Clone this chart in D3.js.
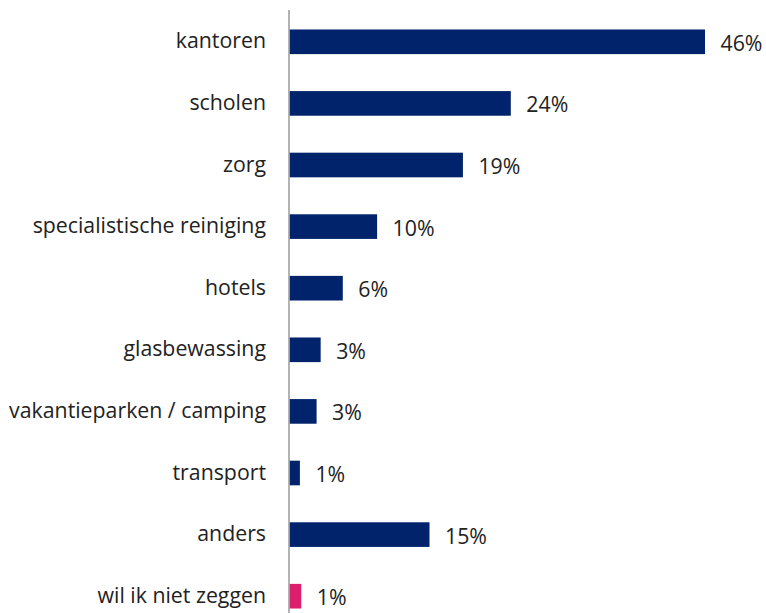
<!DOCTYPE html>
<html>
<head>
<meta charset="utf-8">
<script src="https://cdn.jsdelivr.net/npm/d3@7"></script>
<style>
  html, body { margin: 0; padding: 0; background: #fff; }
  svg { display: block; }
  text { font-family: "Open Sans", sans-serif; }
</style>
</head>
<body>
<svg id="chart" width="766" height="613"></svg>
<script>
const categories = [
  "kantoren", "scholen", "zorg", "specialistische reiniging", "hotels",
  "glasbewassing", "vakantieparken / camping", "transport", "anders", "wil ik niet zeggen"
];
const values = [46, 24.5, 19.2, 9.7, 5.9, 3.45, 3.0, 1.15, 15.5, 1.3];
const valueLabels = ["46%", "24%", "19%", "10%", "6%", "3%", "3%", "1%", "15%", "1%"];
const highlighted = ["wil ik niet zeggen"];

const svg = d3.select("#chart");
const navy = "#00236B";
const pink = "#DB1F6D";

const x = d3.scaleLinear().domain([0, 46]).range([289.5, 705]);
const y = d3.scaleBand().domain(categories).range([11, 627]).paddingInner(0.6).paddingOuter(0.3);

svg.append("g").selectAll("rect")
  .data(categories)
  .join("rect")
  .attr("x", x(0))
  .attr("y", d => y(d))
  .attr("width", (d, i) => x(values[i]) - x(0))
  .attr("height", y.bandwidth())
  .attr("fill", d => highlighted.includes(d) ? pink : navy);

svg.append("line")
  .attr("x1", 289).attr("x2", 289)
  .attr("y1", 10).attr("y2", 613)
  .attr("stroke", "#9a9a9a").attr("stroke-width", 1.5);

svg.append("g").selectAll("text")
  .data(categories)
  .join("text")
  .attr("x", 266)
  .attr("y", d => y(d) + y.bandwidth() / 2)
  .attr("dy", "0.31em")
  .attr("text-anchor", "end")
  .attr("font-size", 21.3)
  .attr("fill", "#222")
  .text(d => d);

svg.append("g").selectAll("text")
  .data(categories)
  .join("text")
  .attr("x", (d, i) => x(values[i]) + 15.5)
  .attr("y", d => y(d) + y.bandwidth() / 2)
  .attr("dy", "0.42em")
  .attr("font-size", 21.3)
  .attr("fill", "#222")
  .text((d, i) => valueLabels[i]);
</script>
</body>
</html>
